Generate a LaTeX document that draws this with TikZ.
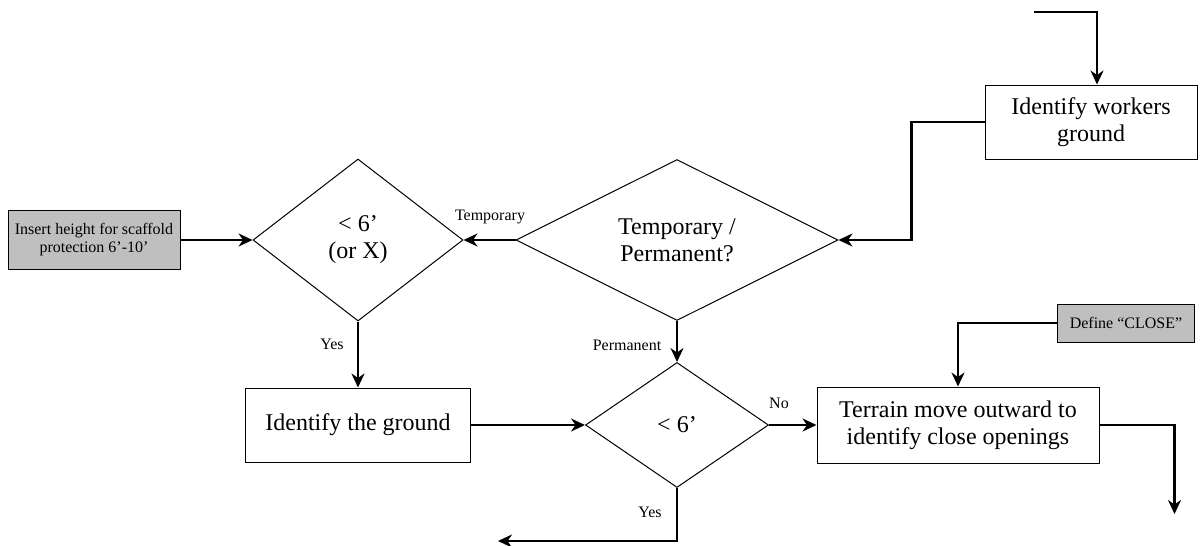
\documentclass[tikz,border=0pt]{standalone}
\usepackage{fontspec}
\setmainfont{Liberation Serif}
\usetikzlibrary{shapes.geometric,arrows.meta}

\begin{document}
\begin{tikzpicture}[x=1pt,y=-1pt,
  box/.style={draw,line width=1pt,inner sep=0pt,align=center,font=\fontsize{24}{27}\selectfont},
  greybox/.style={draw,line width=1pt,fill=black!25,inner sep=0pt,align=center,font=\fontsize{16}{18}\selectfont},
  decision/.style={diamond,draw,line width=1pt,inner sep=0pt,aspect=2,align=center,font=\fontsize{24}{27}\selectfont},
  conn/.style={line width=2.8pt,-{Stealth[length=14pt,width=13pt]}},
  lbl/.style={font=\fontsize{16}{18}\selectfont}]
\useasboundingbox (0,0) rectangle (1202,546);
% Scaffold protection flow
\node[box,minimum width=212pt,minimum height=74pt] (workers) at (1091,122) {Identify workers\\ground};
\node[decision,minimum width=322pt,minimum height=161pt] (tempperm) at (677,240) {Temporary /\\Permanent?};
\node[decision,minimum width=210pt,minimum height=162pt] (short6) at (358,240) {< 6’\\(or X)};
\node[greybox,minimum width=172pt,minimum height=59pt] (insert) at (94,240) {Insert height for scaffold\\protection 6’-10’};
\node[box,minimum width=225pt,minimum height=74pt] (ground) at (358,425) {Identify the ground};
\node[decision,minimum width=183pt,minimum height=125pt] (under6) at (677,425) {< 6’};
\node[box,minimum width=282pt,minimum height=76pt] (terrain) at (958,425) {Terrain move outward to\\identify close openings};
\node[greybox,minimum width=137pt,minimum height=38pt] (defclose) at (1126,323) {Define “CLOSE”};
\coordinate (start) at (1034,12);

\draw[conn] (start) -| ([xshift=6pt]workers.north);
\draw[conn] (workers.west) -- ++(-73,0) |- (tempperm.east);
\draw[conn] (tempperm.west) -- (short6.east);
\draw[conn] (insert.east) -- (short6.west);
\draw[conn] (short6.south) -- (ground.north);
\draw[conn] (ground.east) -- (under6.west);
\draw[conn] (tempperm.south) -- (under6.north);
\draw[conn] (under6.east) -- (terrain.west);
\draw[conn] (defclose.west) -| (terrain.north);
\draw[conn] (terrain.east) -- ++(75,0) -- ++(0,89);
\draw[conn] (under6.south) -- ++(0,53) -- ++(-179,0);

\node[lbl] (ltemp) at (490,217) {Temporary};
\node[lbl] (lyes1) at (332,344) {Yes};
\node[lbl] (lperm) at (627,345) {Permanent};
\node[lbl] (lno) at (779,403) {No};
\node[lbl] (lyes2) at (650,512) {Yes};
\end{tikzpicture}
\end{document}
